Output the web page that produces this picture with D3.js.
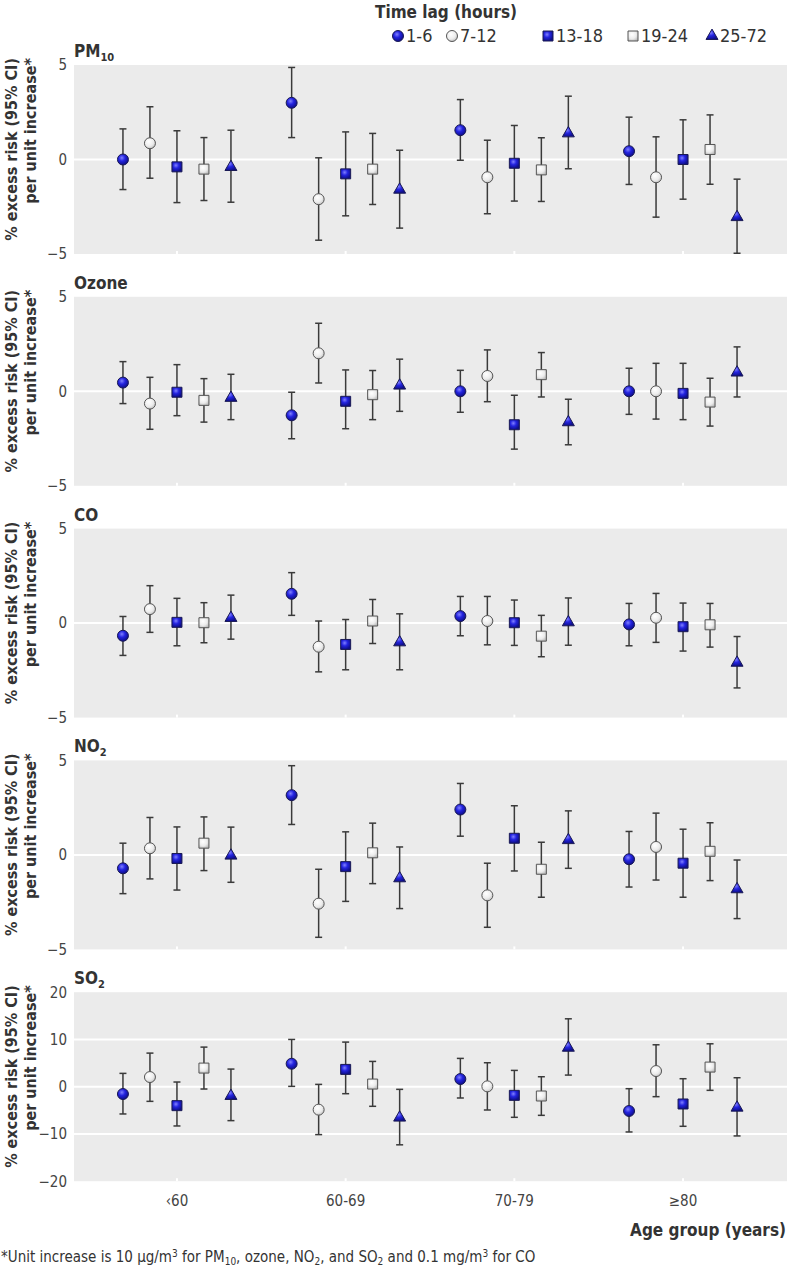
<!DOCTYPE html>
<html>
<head>
<meta charset="utf-8">
<script src="https://cdn.jsdelivr.net/npm/d3@7"></script>
<style>
  body { margin: 0; background: #fff; }
  svg text { font-family: "Liberation Sans Narrow", "DejaVu Sans Condensed", "Roboto", sans-serif; }
  .bold { font-weight: bold; fill: #333; }
</style>
</head>
<body>
<div class="chart"></div>
<script>
// categories
const ageGroups = ["\u203960", "60-69", "70-79", "\u226580"];
const lags = ["1-6", "7-12", "13-18", "19-24", "25-72"];
const pollutants = ["PM10", "Ozone", "CO", "NO2", "SO2"];

// estimates per age group (rows) x lag (cols), % excess risk
const pm10Est = [[0.0, 0.86, -0.39, -0.51, -0.4], [3.0, -2.1, -0.76, -0.51, -1.6], [1.55, -0.94, -0.2, -0.55, 1.38], [0.44, -0.94, 0.0, 0.53, -3.05]];
const pm10Lo  = [[-1.59, -0.99, -2.28, -2.17, -2.26], [1.16, -4.27, -2.98, -2.38, -3.63], [-0.04, -2.87, -2.2, -2.22, -0.49], [-1.32, -3.05, -2.1, -1.31, -4.96]];
const pm10Hi  = [[1.62, 2.79, 1.52, 1.16, 1.55], [4.87, 0.09, 1.46, 1.38, 0.49], [3.17, 1.02, 1.8, 1.15, 3.35], [2.24, 1.2, 2.1, 2.36, -1.04]];

const ozoneEst = [[0.46, -0.65, -0.05, -0.48, -0.35], [-1.27, 2.01, -0.53, -0.18, 0.3], [0.0, 0.81, -1.77, 0.88, -1.64], [0.0, 0.0, -0.11, -0.57, 0.99]];
const ozoneLo  = [[-0.65, -2.01, -1.29, -1.63, -1.5], [-2.51, 0.44, -1.98, -1.5, -1.06], [-1.11, -0.55, -3.06, -0.3, -2.83], [-1.22, -1.47, -1.5, -1.84, -0.3]];
const ozoneHi  = [[1.57, 0.74, 1.41, 0.67, 0.9], [-0.05, 3.6, 1.13, 1.1, 1.7], [1.11, 2.19, -0.21, 2.05, -0.42], [1.22, 1.48, 1.48, 0.69, 2.35]];

const coEst = [[-0.67, 0.74, 0.04, 0.02, 0.27], [1.55, -1.25, -1.13, 0.11, -1.02], [0.37, 0.11, 0.02, -0.69, 0.04], [-0.07, 0.28, -0.19, -0.09, -2.1]];
const coLo  = [[-1.71, -0.49, -1.2, -1.04, -0.85], [0.41, -2.58, -2.47, -1.08, -2.47], [-0.67, -1.15, -1.18, -1.78, -1.17], [-1.2, -1.02, -1.48, -1.27, -3.43]];
const coHi  = [[0.35, 1.98, 1.31, 1.08, 1.48], [2.67, 0.11, 0.19, 1.25, 0.49], [1.41, 1.41, 1.22, 0.41, 1.33], [1.04, 1.57, 1.06, 1.04, -0.71]];

const no2Est = [[-0.71, 0.35, -0.19, 0.62, -0.04], [3.16, -2.58, -0.62, 0.11, -1.24], [2.4, -2.14, 0.88, -0.76, 0.78], [-0.23, 0.42, -0.44, 0.19, -1.82]];
const no2Lo  = [[-2.05, -1.27, -1.86, -0.83, -1.45], [1.61, -4.36, -2.46, -1.52, -2.84], [0.99, -3.83, -0.85, -2.24, -0.71], [-1.7, -1.33, -2.24, -1.36, -3.37]];
const no2Hi  = [[0.62, 1.98, 1.48, 2.01, 1.47], [4.72, -0.76, 1.22, 1.68, 0.42], [3.78, -0.44, 2.6, 0.67, 2.33], [1.24, 2.21, 1.36, 1.7, -0.27]];

const so2Est = [[-1.55, 2.04, -4.01, 3.94, -1.97], [4.86, -4.86, 3.66, 0.56, -6.55], [1.62, 0.07, -1.83, -1.97, 8.24], [-5.14, 3.31, -3.66, 4.15, -4.44]];
const so2Lo  = [[-5.77, -3.1, -8.31, -0.49, -7.18], [0.07, -10.14, -1.48, -4.15, -12.3], [-2.39, -4.93, -6.48, -6.06, 2.46], [-9.58, -2.11, -8.38, -0.77, -10.42]];
const so2Hi  = [[2.82, 7.11, 0.99, 8.38, 3.73], [10.0, 0.49, 9.44, 5.35, -0.56], [5.99, 5.07, 3.45, 2.11, 14.37], [-0.42, 8.87, 1.69, 9.08, 1.9]];

// y axis ticks
const smallTicks = [-5, 0, 5];
const so2Ticks = [-20, -10, 0, 10, 20];

const panels = [
  {name: "PM10", title: ["PM", "10"], est: pm10Est, lo: pm10Lo, hi: pm10Hi, ticks: smallTicks},
  {name: "Ozone", title: ["Ozone", ""], est: ozoneEst, lo: ozoneLo, hi: ozoneHi, ticks: smallTicks},
  {name: "CO", title: ["CO", ""], est: coEst, lo: coLo, hi: coHi, ticks: smallTicks},
  {name: "NO2", title: ["NO", "2"], est: no2Est, lo: no2Lo, hi: no2Hi, ticks: smallTicks},
  {name: "SO2", title: ["SO", "2"], est: so2Est, lo: so2Lo, hi: so2Hi, ticks: so2Ticks}
];

const width = 790, height = 1273;
const plotL = 74, plotR = 787, panelH = 189, firstTop = 65, panelStep = 231.8;

const svg = d3.select(".chart")
    .append("svg")
    .attr("width", width)
    .attr("height", height);

// gradients for the shaded markers
const defs = svg.append("defs");
const blue = defs.append("radialGradient").attr("id", "blueGrad")
    .attr("cx", "40%").attr("cy", "35%").attr("r", "65%");
blue.append("stop").attr("offset", "0%").attr("stop-color", "#8080ff");
blue.append("stop").attr("offset", "45%").attr("stop-color", "#2424e0");
blue.append("stop").attr("offset", "100%").attr("stop-color", "#0e0e88");
const grey = defs.append("radialGradient").attr("id", "greyGrad")
    .attr("cx", "40%").attr("cy", "35%").attr("r", "70%");
grey.append("stop").attr("offset", "0%").attr("stop-color", "#ffffff");
grey.append("stop").attr("offset", "60%").attr("stop-color", "#ececec");
grey.append("stop").attr("offset", "100%").attr("stop-color", "#bdbdbd");

const lagStyle = {
  "1-6":   {type: d3.symbolCircle,   size: 95,  fill: "url(#blueGrad)", stroke: "#1a1a55"},
  "7-12":  {type: d3.symbolCircle,   size: 95,  fill: "url(#greyGrad)", stroke: "#555"},
  "13-18": {type: d3.symbolSquare,   size: 100, fill: "url(#blueGrad)", stroke: "#1a1a55"},
  "19-24": {type: d3.symbolSquare,   size: 100, fill: "url(#greyGrad)", stroke: "#555"},
  "25-72": {type: d3.symbolTriangle, size: 62,  fill: "url(#blueGrad)", stroke: "#1a1a55"}
};

// x scales: age group bands + lag offset inside a band
const xGroup = d3.scaleBand()
    .domain(ageGroups)
    .range([92.6, 767.4]);
const xLag = d3.scalePoint()
    .domain(lags)
    .range([-54, 54]);
const xPos = (g, l) => xGroup(g) + xGroup.bandwidth() / 2 + xLag(l);

panels.forEach((p, i) => {
    const top = firstTop + i * panelStep;
    const g = svg.append("g").attr("transform", `translate(0, ${top})`);
    const ext = d3.extent(p.ticks);
    const yScale = d3.scaleLinear().domain(ext).range([panelH, 0]);

    g.append("rect")
        .attr("x", plotL).attr("y", 0)
        .attr("width", plotR - plotL).attr("height", panelH)
        .attr("fill", "#ebebeb");

    // interior gridlines
    g.selectAll(".grid")
        .data(p.ticks.filter(t => t !== ext[0] && t !== ext[1]))
        .enter().append("line")
        .attr("x1", plotL).attr("x2", plotR)
        .attr("y1", d => yScale(d)).attr("y2", d => yScale(d))
        .attr("stroke", "#fff").attr("stroke-width", 2);

    // small white ticks at group centres
    g.selectAll(".xt")
        .data(ageGroups)
        .enter().append("line")
        .attr("x1", d => xGroup(d) + xGroup.bandwidth() / 2)
        .attr("x2", d => xGroup(d) + xGroup.bandwidth() / 2)
        .attr("y1", panelH - 3).attr("y2", panelH)
        .attr("stroke", "#fff").attr("stroke-width", 2);

    const yAxis = d3.axisLeft(yScale).tickValues(p.ticks).tickSize(0).tickPadding(7);
    const ya = g.append("g")
        .attr("transform", `translate(${plotL}, 0)`)
        .call(yAxis);
    ya.select(".domain").remove();
    ya.selectAll("text").attr("font-size", 15).attr("fill", "#444");

    // panel title with subscript
    const t = g.append("text")
        .attr("class", "bold")
        .attr("x", plotL).attr("y", -8)
        .attr("font-size", 17);
    t.append("tspan").text(p.title[0]);
    if (p.title[1]) t.append("tspan").attr("dy", 4).attr("font-size", 11).text(p.title[1]);

    // rotated y label, both lines aligned to the panel top
    const yl = g.append("text")
        .attr("class", "bold")
        .attr("transform", "translate(0, -7) rotate(-90)")
        .attr("text-anchor", "end")
        .attr("font-size", 16);
    yl.append("tspan").attr("x", 0).attr("y", 17).text("% excess risk (95% CI)");
    yl.append("tspan").attr("x", 0).attr("y", 36).text("per unit increase*");

    // flatten into points
    const rows = [];
    ageGroups.forEach((a, ai) => lags.forEach((l, li) => {
        rows.push({age: a, lag: l, est: p.est[ai][li], lo: p.lo[ai][li], hi: p.hi[ai][li]});
    }));

    const bars = g.selectAll(".err").data(rows).enter().append("g")
        .attr("stroke", "#3a3a3a").attr("stroke-width", 1.5);
    bars.append("line")
        .attr("x1", d => xPos(d.age, d.lag)).attr("x2", d => xPos(d.age, d.lag))
        .attr("y1", d => yScale(d.lo)).attr("y2", d => yScale(d.hi));
    bars.append("line")
        .attr("x1", d => xPos(d.age, d.lag) - 3.5).attr("x2", d => xPos(d.age, d.lag) + 3.5)
        .attr("y1", d => yScale(d.hi)).attr("y2", d => yScale(d.hi));
    bars.append("line")
        .attr("x1", d => xPos(d.age, d.lag) - 3.5).attr("x2", d => xPos(d.age, d.lag) + 3.5)
        .attr("y1", d => yScale(d.lo)).attr("y2", d => yScale(d.lo));

    g.selectAll(".pt").data(rows).enter().append("path")
        .attr("transform", d => `translate(${xPos(d.age, d.lag)}, ${yScale(d.est)})`)
        .attr("d", d => d3.symbol().type(lagStyle[d.lag].type).size(lagStyle[d.lag].size)())
        .attr("fill", d => lagStyle[d.lag].fill)
        .attr("stroke", d => lagStyle[d.lag].stroke)
        .attr("stroke-width", 1);

    if (i === panels.length - 1) {
        const xa = g.append("g")
            .attr("transform", `translate(0, ${panelH})`)
            .call(d3.axisBottom(xGroup).tickSize(0).tickPadding(14));
        xa.select(".domain").remove();
        xa.selectAll("text").attr("font-size", 15).attr("fill", "#444");
    }
});

// x axis title
svg.append("text")
    .attr("class", "bold")
    .attr("x", 786).attr("y", 1236)
    .attr("text-anchor", "end")
    .attr("font-size", 17)
    .text("Age group (years)");

// legend
svg.append("text")
    .attr("class", "bold")
    .attr("x", 375).attr("y", 18)
    .attr("font-size", 17)
    .text("Time lag (hours)");

const legendX = [398, 452, 548, 633, 712];
const legend = svg.append("g");
legend.selectAll(".legend-sym")
    .data(lags)
    .enter()
    .append("path")
    .attr("transform", (d, i) => `translate(${legendX[i]}, 36)`)
    .attr("d", d => d3.symbol().type(lagStyle[d].type).size(lagStyle[d].size)())
    .attr("fill", d => lagStyle[d].fill)
    .attr("stroke", d => lagStyle[d].stroke);
legend.selectAll(".legend-text")
    .data(lags)
    .enter()
    .append("text")
    .attr("x", (d, i) => legendX[i] + 8)
    .attr("y", 42)
    .attr("font-size", 18)
    .attr("fill", "#333")
    .text(d => d);

// footnote with sub/superscripts
const parts = [
    ["*Unit increase is 10 \u00b5g/m", 0], ["3", -1], [" for PM", 0], ["10", 1], [", ozone, NO", 0], ["2", 1],
    [", and SO", 0], ["2", 1], [" and 0.1 mg/m", 0], ["3", -1], [" for CO", 0]
];
const foot = svg.append("text")
    .attr("x", 1).attr("y", 1262)
    .attr("font-size", 15)
    .attr("fill", "#333");
let prev = 0;
parts.forEach(([s, k]) => {
    const shift = k === 1 ? 3 : (k === -1 ? -5 : 0);
    foot.append("tspan")
        .attr("dy", shift - prev)
        .attr("font-size", k === 0 ? 15 : 10)
        .text(s);
    prev = shift;
});
</script>
</body>
</html>
